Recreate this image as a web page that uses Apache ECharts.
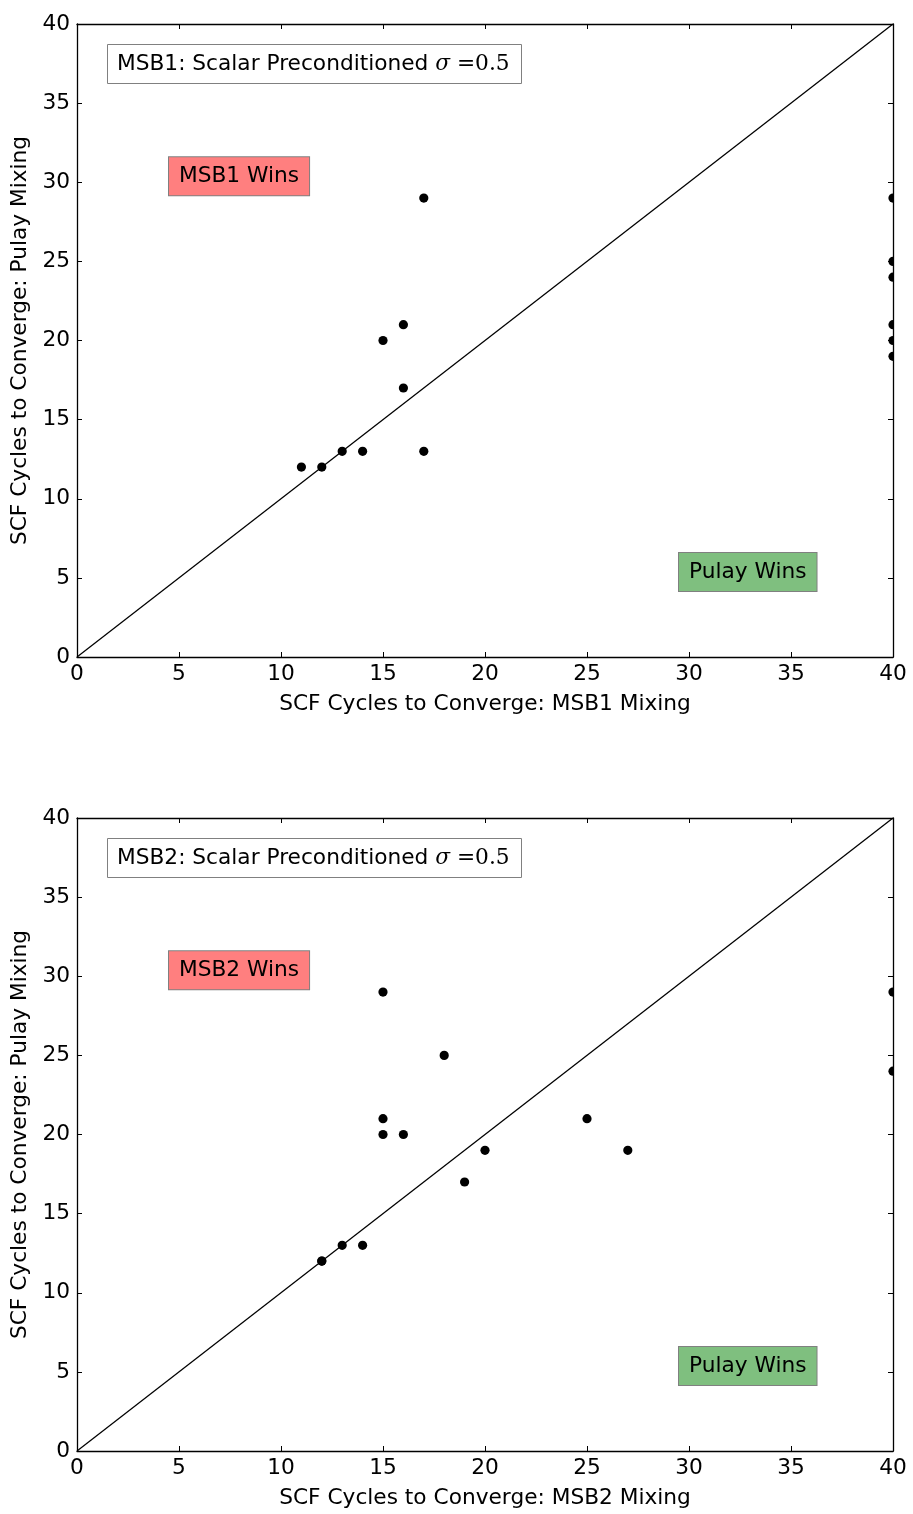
<!DOCTYPE html>
<html><head><meta charset="utf-8">
<script src="https://cdn.jsdelivr.net/npm/echarts@6/dist/echarts.min.js"></script>
<style>html,body{margin:0;padding:0;background:#fff}#c{width:913px;height:1514px}</style>
</head><body><div id="c"></div>
<script>
// Plot 1: MSB1 vs Pulay
var msb1Points = [[11,12],[12,12],[13,13],[14,13],[15,20],[16,21],[16,17],[17,13],[17,29],
                  [40,29],[40,25],[40,24],[40,21],[40,20],[40,19]];
// Plot 2: MSB2 vs Pulay
var msb2Points = [[12,12],[12,12],[13,13],[14,13],[15,29],[15,21],[15,20],[16,20],[18,25],
                  [19,17],[20,19],[25,21],[27,19],[40,29],[40,24]];
var diagonal = [[0,0],[40,40]];
var annotations1 = [[5,30,'MSB1 Wins','#ff7f7f'],[30,5,'Pulay Wins','#7fbf7f']];
var annotations2 = [[5,30,'MSB2 Wins','#ff7f7f'],[30,5,'Pulay Wins','#7fbf7f']];
var titles = ['MSB1: Scalar Preconditioned ', 'MSB2: Scalar Preconditioned '];
var xNames = ['SCF Cycles to Converge: MSB1 Mixing','SCF Cycles to Converge: MSB2 Mixing'];
var yName = 'SCF Cycles to Converge: Pulay Mixing';

var FONT = 'DejaVu Sans';
var FS = 21.7;
var chart = echarts.init(document.getElementById('c'));

function xAxisMain(gi, name){
  return {gridIndex:gi, type:'value', min:0, max:40, interval:5, position:'bottom',
    name:name, nameLocation:'middle', nameGap:36,
    nameTextStyle:{fontFamily:FONT, fontSize:FS, color:'#000'},
    axisLine:{onZero:false, lineStyle:{color:'#000', width:1.3}},
    axisTick:{inside:true, length:5, lineStyle:{color:'#000'}},
    axisLabel:{fontFamily:FONT, fontSize:FS, color:'#000', margin:6},
    splitLine:{show:false}};
}
function xAxisTop(gi){
  return {gridIndex:gi, type:'value', min:0, max:40, interval:5, position:'top',
    axisLine:{onZero:false, lineStyle:{color:'#000', width:1.3}},
    axisTick:{inside:true, length:5, lineStyle:{color:'#000'}},
    axisLabel:{show:false}, splitLine:{show:false}};
}
function yAxisMain(gi){
  return {gridIndex:gi, type:'value', min:0, max:40, interval:5, position:'left',
    name:yName, nameLocation:'middle', nameGap:42,
    nameTextStyle:{fontFamily:FONT, fontSize:FS, color:'#000'},
    axisLine:{onZero:false, lineStyle:{color:'#000', width:1.3}},
    axisTick:{inside:true, length:5, lineStyle:{color:'#000'}},
    axisLabel:{fontFamily:FONT, fontSize:FS, color:'#000', margin:7},
    splitLine:{show:false}};
}
function yAxisRight(gi){
  return {gridIndex:gi, type:'value', min:0, max:40, interval:5, position:'right',
    axisLine:{onZero:false, lineStyle:{color:'#000', width:1.3}},
    axisTick:{inside:true, length:5, lineStyle:{color:'#000'}},
    axisLabel:{show:false}, splitLine:{show:false}};
}
function dotSeries(axIdx, data){
  return {type:'custom', xAxisIndex:axIdx, yAxisIndex:axIdx, clip:true, data:data, z:5,
    renderItem:function(params, api){
      var p = api.coord([api.value(0), api.value(1)]);
      return {type:'circle', shape:{cx:p[0], cy:p[1], r:4.6}, style:{fill:'#000'}};
    }};
}
function lineSeries(axIdx){
  return {type:'line', xAxisIndex:axIdx, yAxisIndex:axIdx, data:diagonal, symbol:'none',
    lineStyle:{color:'#000', width:1.3}, silent:true, z:3};
}
function annSeries(axIdx, anns){
  return {type:'scatter', xAxisIndex:axIdx, yAxisIndex:axIdx, symbolSize:0, silent:true, z:6,
    itemStyle:{opacity:1},
    data: anns.map(function(a){
      return {value:[a[0],a[1]], label:{show:true, formatter:a[2], backgroundColor:a[3],
        borderColor:'#808080', borderWidth:1, padding:[8,10,8,10],
        position:[0,0], align:'left', verticalAlign:'middle', offset:[-10,-6],
        fontFamily:FONT, fontSize:FS, color:'#000', opacity:1}};
    })};
}
function titleOpt(top, txt){
  return {left:107, top:top, text:txt + '{s|σ}{e| =0.5}',
    backgroundColor:'#fff', borderColor:'#808080', borderWidth:1, padding:[8,12,8,10],
    textStyle:{fontFamily:FONT, fontSize:FS, fontWeight:'normal', color:'#000', lineHeight:24,
      rich:{s:{fontFamily:'DejaVu Serif', fontStyle:'italic', fontSize:FS, color:'#000', lineHeight:24},
            e:{fontFamily:'DejaVu Serif', fontSize:FS, color:'#000', lineHeight:24}}}};
}

chart.setOption({
  animation:false,
  backgroundColor:'#fff',
  title:[titleOpt(44, titles[0]), titleOpt(838, titles[1])],
  grid:[{left:77, right:20, top:24, height:633},{left:77, right:20, top:818, height:633}],
  xAxis:[xAxisMain(0, xNames[0]), xAxisTop(0), xAxisMain(1, xNames[1]), xAxisTop(1)],
  yAxis:[yAxisMain(0), yAxisRight(0), yAxisMain(1), yAxisRight(1)],
  series:[
    lineSeries(0), dotSeries(0, msb1Points), annSeries(0, annotations1),
    lineSeries(2), dotSeries(2, msb2Points), annSeries(2, annotations2)
  ]
});
</script></body></html>
